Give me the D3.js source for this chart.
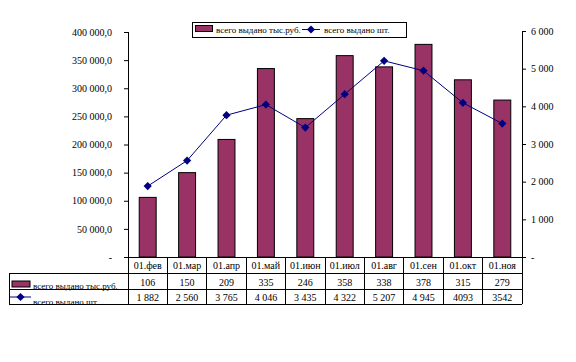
<!DOCTYPE html>
<html>
<head>
<meta charset="utf-8">
<script src="https://cdn.jsdelivr.net/npm/d3@7"></script>
<style>
body { margin:0; background:#fff; }
text { font-family: "Liberation Serif", "Times New Roman", serif; font-size:10px; fill:#000; }
</style>
</head>
<body>
<div id="chart"></div>
<script>
//data
const categories = ["01.фев","01.мар","01.апр","01.май","01.июн","01.июл","01.авг","01.сен","01.окт","01.ноя"];
const rubValues = [106, 150, 209, 335, 246, 358, 338, 378, 315, 279]; // тыс. руб.
const pcsValues = [1882, 2560, 3765, 4046, 3435, 4322, 5207, 4945, 4093, 3542];
const rubLabels = ["106","150","209","335","246","358","338","378","315","279"];
const pcsLabels = ["1 882","2 560","3 765","4 046","3 435","4 322","5 207","4 945","4093","3542"];
const leftTicks = [0, 50000, 100000, 150000, 200000, 250000, 300000, 350000, 400000];
const rightTicks = [0, 1000, 2000, 3000, 4000, 5000, 6000];
const seriesNames = ["всего выдано тыс.руб.", "всего выдано шт."];

function graph(){

	//sizing
	let width = 576, height = 362;
	let plot = {left:128, right:522, top:32, bottom:257};
	let table = {left:9, row1:273, row2:289, bottom:304};

	let svg = d3.select("#chart")
		.append("svg")
		.attr("width", width)
		.attr("height", height);

	//number format
	const loc = d3.formatLocale({decimal:",", thousands:" ", grouping:[3], currency:["",""]});
	const fmtLeft = loc.format(",.1f");
	const fmtRight = loc.format(",d");

	//scales
	let x = d3.scaleBand()
		.domain(categories)
		.range([plot.left, plot.right]);

	let yL = d3.scaleLinear()
		.domain([0, 400000])
		.range([plot.bottom, plot.top]);

	let yR = d3.scaleLinear()
		.domain([0, 6000])
		.range([plot.bottom, plot.top - 1]);

	const barColor = "#993366", lineColor = "#000080";

	//bars
	let bw = x.bandwidth() * 0.43;
	svg.append("g")
		.selectAll("rect")
		.data(rubValues)
		.join("rect")
		.attr("x", (d,i) => x(categories[i]) + (x.bandwidth() - bw)/2)
		.attr("y", d => yL(d*1000))
		.attr("width", bw)
		.attr("height", d => plot.bottom - yL(d*1000))
		.attr("fill", barColor)
		.attr("stroke", "#000")
		.attr("stroke-width", 1);

	//line
	let line = d3.line()
		.x((d,i) => x(categories[i]) + x.bandwidth()/2)
		.y(d => yR(d));

	svg.append("path")
		.datum(pcsValues)
		.attr("d", line)
		.attr("fill", "none")
		.attr("stroke", lineColor)
		.attr("stroke-width", 1);

	let diamond = d3.symbol().type(d3.symbolSquare).size(34);
	svg.append("g")
		.selectAll("path")
		.data(pcsValues)
		.join("path")
		.attr("d", diamond)
		.attr("transform", (d,i) => `translate(${x(categories[i]) + x.bandwidth()/2},${yR(d)}) rotate(45)`)
		.attr("fill", lineColor);

	//axes
	let axL = svg.append("g")
		.attr("transform", `translate(${plot.left},0)`)
		.call(d3.axisLeft(yL).tickValues(leftTicks).tickSize(4).tickPadding(12)
			.tickFormat(d => d === 0 ? "-" : fmtLeft(d)));
	let axR = svg.append("g")
		.attr("transform", `translate(${plot.right},0)`)
		.call(d3.axisRight(yR).tickValues(rightTicks).tickSize(4).tickPadding(5)
			.tickFormat(d => d === 0 ? "-" : fmtRight(d)));
	[axL, axR].forEach(a => {
		a.attr("font-family", null);
		a.select(".domain").remove();
		a.selectAll(".tick line").attr("stroke", "#000");
		a.selectAll(".tick text").style("font-family", "Liberation Serif").style("font-size", "10px");
	});

	//axis and table lines
	let lines = svg.append("g").attr("stroke", "#000").attr("stroke-width", 1).attr("shape-rendering", "crispEdges");
	lines.append("line").attr("x1", plot.left).attr("x2", plot.left).attr("y1", plot.top).attr("y2", table.bottom);
	lines.append("line").attr("x1", plot.right).attr("x2", plot.right).attr("y1", plot.top - 1).attr("y2", table.bottom);
	lines.append("line").attr("x1", plot.left).attr("x2", plot.right).attr("y1", plot.bottom).attr("y2", plot.bottom);
	[table.row1, table.row2, table.bottom].forEach(y => {
		lines.append("line").attr("x1", table.left).attr("x2", plot.right).attr("y1", y).attr("y2", y);
	});
	lines.append("line").attr("x1", table.left).attr("x2", table.left).attr("y1", table.row1).attr("y2", table.bottom);
	categories.slice(1).forEach(c => {
		lines.append("line").attr("x1", x(c)).attr("x2", x(c)).attr("y1", plot.bottom).attr("y2", table.bottom);
	});

	//table text
	let tbl = svg.append("g").attr("text-anchor", "middle");
	tbl.selectAll(".cat")
		.data(categories)
		.join("text")
		.attr("x", d => x(d) + x.bandwidth()/2)
		.attr("y", plot.bottom + 12)
		.text(d => d);
	tbl.selectAll(".r1")
		.data(rubLabels)
		.join("text")
		.attr("x", (d,i) => x(categories[i]) + x.bandwidth()/2)
		.attr("y", table.row1 + 13)
		.text(d => d);
	tbl.selectAll(".r2")
		.data(pcsLabels)
		.join("text")
		.attr("x", (d,i) => x(categories[i]) + x.bandwidth()/2)
		.attr("y", table.row2 + 12)
		.text(d => d);

	//row headers (clipped at the table bottom like the original)
	svg.append("clipPath").attr("id", "clipT")
		.append("rect").attr("x", 0).attr("y", 0).attr("width", width).attr("height", table.bottom);
	let rh = svg.append("g").attr("clip-path", "url(#clipT)");
	rh.append("rect").attr("x", 12).attr("y", 281).attr("width", 18).attr("height", 6)
		.attr("fill", barColor).attr("stroke", "#000");
	rh.append("text").attr("x", 33).attr("y", 289).style("font-size", "9px").text(seriesNames[0]);
	rh.append("line").attr("x1", 10).attr("x2", 31).attr("y1", 297).attr("y2", 297).attr("stroke", lineColor);
	rh.append("path").attr("d", diamond).attr("transform", "translate(20.5,297) rotate(45)").attr("fill", lineColor);
	rh.append("text").attr("x", 33).attr("y", 304.5).style("font-size", "9px").text(seriesNames[1]);

	//legend
	let lg = svg.append("g");
	lg.append("rect").attr("x", 192.5).attr("y", 22.5).attr("width", 214).attr("height", 15)
		.attr("fill", "#fff").attr("stroke", "#000");
	lg.append("rect").attr("x", 195.5).attr("y", 25.5).attr("width", 17).attr("height", 6)
		.attr("fill", barColor).attr("stroke", "#000");
	lg.append("text").attr("x", 216).attr("y", 33).style("font-size", "9px").text(seriesNames[0]);
	lg.append("line").attr("x1", 302).attr("x2", 320).attr("y1", 29.5).attr("y2", 29.5).attr("stroke", lineColor);
	lg.append("path").attr("d", diamond).attr("transform", "translate(311,29.5) rotate(45)").attr("fill", lineColor);
	lg.append("text").attr("x", 324).attr("y", 33).style("font-size", "9px").text(seriesNames[1]);

}

graph();
</script>
</body>
</html>
